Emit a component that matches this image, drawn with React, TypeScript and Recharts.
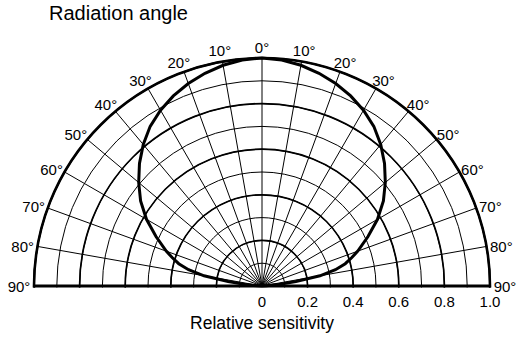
import React from 'react';
import { RadarChart, Radar, PolarGrid, PolarAngleAxis, PolarRadiusAxis } from 'recharts';

// radiation angle in degrees (finer steps near the horizon where the curve bends)
const angles = [
  -90, -87.5, -85, -82.5, -80, -77.5, -75, -72.5, -70, -65, -60, -55, -50, -45, -40, -35, -30, -25, -20, -15, -10, -5,
  0, 5, 10, 15, 20, 25, 30, 35, 40, 45, 50, 55, 60, 65, 70, 72.5, 75, 77.5, 80, 82.5, 85, 87.5, 90,
];
// relative sensitivity at each angle
const sensitivity = [
  0, 0.02, 0.07, 0.15, 0.258, 0.33, 0.378, 0.412, 0.447, 0.513, 0.585, 0.65, 0.706, 0.76, 0.81, 0.855, 0.89, 0.92, 0.945, 0.966, 0.983, 0.995,
  1.0, 0.995, 0.983, 0.966, 0.945, 0.92, 0.89, 0.855, 0.81, 0.76, 0.706, 0.65, 0.585, 0.513, 0.447, 0.412, 0.378, 0.33, 0.258, 0.15, 0.07, 0.02, 0,
];

const angleTicks = [-90, -80, -70, -60, -50, -40, -30, -20, -10, 0, 10, 20, 30, 40, 50, 60, 70, 80, 90];
const fineTicks = [0, 0.1, 0.2, 0.3, 0.4, 0.5, 0.6, 0.7, 0.8, 0.9, 1];
const majorTicks = [0, 0.2, 0.4, 0.6, 0.8, 1];

const data = angles.map((a, i) => ({ angle: a, sens: sensitivity[i] }));

const FONT = '"Liberation Sans", Arial, Helvetica, sans-serif';
const CLIP = 'url(#upperHalf)';

const AngleTick = (props: any) => {
  const { x, y, payload } = props;
  const t = (payload.value * Math.PI) / 180;
  const s = Math.sin(t);
  const c = Math.cos(t);
  // x,y sits 8px outside the rim; labels ride higher near the top, sideways near the horizon
  return (
    <text
      x={x + 7 * s}
      y={y + 8 * c - 11 * c * c}
      textAnchor="middle"
      dominantBaseline="central"
      fontSize={15}
      fontFamily={FONT}
      fill="#000"
    >
      {Math.abs(payload.value)}°
    </text>
  );
};

const RadiusTick = (props: any) => {
  const { x, y, payload } = props;
  const v = payload.value;
  return (
    <text x={x} y={y + 15} textAnchor="middle" dominantBaseline="central" fontSize={15} fontFamily={FONT} fill="#000">
      {v === 0 ? '0' : v.toFixed(1)}
    </text>
  );
};

export default function App() {
  return (
    <div style={{ position: 'absolute', left: 0, top: 0, width: 516, height: 338, background: '#fff' }}>
      {/* only the upper half of the full grid circles is wanted */}
      <svg width={0} height={0} style={{ position: 'absolute' }}>
        <defs>
          <clipPath id="upperHalf">
            <rect x={0} y={0} width={516} height={287.5} />
          </clipPath>
        </defs>
      </svg>
      <div
        style={{
          position: 'absolute',
          left: 49,
          top: 3,
          fontFamily: FONT,
          fontSize: 20,
          lineHeight: 1,
          whiteSpace: 'nowrap',
          color: '#000',
        }}
      >
        Radiation angle
      </div>
      <RadarChart
        width={516}
        height={338}
        data={data}
        cx={262}
        cy={286}
        innerRadius={0}
        outerRadius={228}
        startAngle={180}
        endAngle={0}
        margin={{ top: 0, right: 0, bottom: 0, left: 0 }}
      >
        <PolarAngleAxis
          dataKey="angle"
          type="number"
          domain={[-90, 90]}
          ticks={angleTicks}
          tickCount={19}
          axisLineType="circle"
          axisLine={{ stroke: '#000', strokeWidth: 2.6, clipPath: CLIP }}
          tickLine={false}
          tickSize={8}
          tick={(p: any) => <AngleTick {...p} />}
        />
        <PolarRadiusAxis
          angle={0}
          type="number"
          domain={[0, 1]}
          ticks={majorTicks}
          tickCount={6}
          axisLine={{ stroke: '#000', strokeWidth: 3 }}
          tick={(p: any) => <RadiusTick {...p} />}
        />
        <PolarRadiusAxis
          radiusAxisId="fine"
          angle={180}
          type="number"
          domain={[0, 1]}
          ticks={fineTicks}
          tickCount={11}
          axisLine={{ stroke: '#000', strokeWidth: 3 }}
          tick={false}
        />
        <PolarGrid
          radiusAxisId="fine"
          gridType="circle"
          stroke="#000"
          strokeWidth={1}
          strokeOpacity={1}
          clipPath={CLIP}
        />
        <PolarGrid
          gridType="circle"
          radialLines={false}
          stroke="#000"
          strokeWidth={1.7}
          strokeOpacity={1}
          clipPath={CLIP}
        />
        {/* invisible series so the fine radius axis gets resolved */}
        <Radar
          radiusAxisId="fine"
          dataKey="sens"
          stroke="none"
          fill="none"
          fillOpacity={0}
          dot={false}
          isAnimationActive={false}
        />
        <Radar
          dataKey="sens"
          stroke="#000"
          strokeWidth={3}
          fill="none"
          fillOpacity={0}
          dot={false}
          isAnimationActive={false}
        />
      </RadarChart>
      <div
        style={{
          position: 'absolute',
          left: 262,
          top: 315,
          transform: 'translateX(-50%)',
          fontFamily: FONT,
          fontSize: 17.5,
          lineHeight: 1,
          whiteSpace: 'nowrap',
          color: '#000',
        }}
      >
        Relative sensitivity
      </div>
    </div>
  );
}
